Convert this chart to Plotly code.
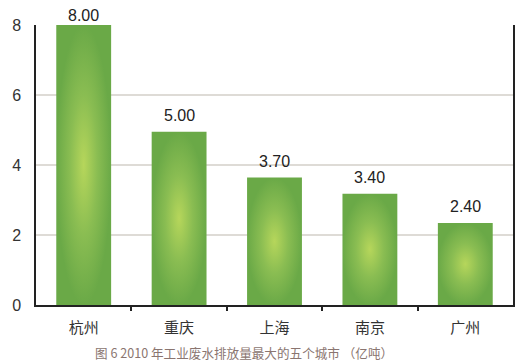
import plotly.graph_objects as go

cities = ["杭州", "重庆", "上海", "南京", "广州"]
values = [8.0, 4.95, 3.64, 3.18, 2.34]
value_labels = ["8.00", "5.00", "3.70", "3.40", "2.40"]
y_ticks = [0, 2, 4, 6, 8]
caption = "图 6 2010 年工业废水排放量最大的五个城市 （亿吨）"

bar_width = 0.575
y_max = 8
fig = go.Figure()
for i, (c, v) in enumerate(zip(cities, values)):
    x0, x1 = i - bar_width / 2, i + bar_width / 2
    fig.add_trace(go.Scatter(
        x=[x0, x1, x1, x0, x0], y=[0, 0, v, v, 0],
        mode="lines", line=dict(width=0), fill="toself",
        fillgradient=dict(type="radial",
                          colorscale=[[0, "#b6d65b"], [0.5, "#8abd52"], [1, "#6aa947"]]),
        hoverinfo="skip", showlegend=False, name=c,
    ))
    fig.add_annotation(x=i, y=v, text=value_labels[i], showarrow=False,
                       yanchor="bottom", yshift=(6 if v < y_max else -1.5),
                       font=dict(family="Liberation Sans", size=16, color="#222"))

fig.add_annotation(xref="paper", yref="paper", x=0.436, y=-0.168, text=caption,
                   showarrow=False, xanchor="center", yanchor="middle",
                   font=dict(family="Noto Sans CJK SC", size=12.6, color="#8a7570"))

fig.update_layout(
    width=520, height=364,
    margin=dict(l=36, r=5, t=25, b=59),
    plot_bgcolor="white", paper_bgcolor="white",
    xaxis=dict(range=[-0.5, 4.5], tickmode="array", tickvals=list(range(len(cities))),
               ticktext=cities, ticks="", showgrid=False, zeroline=False,
               showline=True, linecolor="#222", linewidth=2,
               tickfont=dict(family="Noto Sans CJK SC", size=15, color="#333"),
               ticklabelstandoff=8,
               minor=dict(tickmode="array", tickvals=[0.5, 1.5, 2.5, 3.5],
                          ticks="outside", ticklen=4, tickwidth=1.5, tickcolor="#222",
                          showgrid=False)),
    yaxis=dict(range=[0, y_max], tickmode="array", tickvals=y_ticks, ticks="",
               showgrid=True, gridcolor="#dedbd6", gridwidth=1.5, zeroline=False,
               showline=True, linecolor="#222", linewidth=1.5, mirror=True,
               tickfont=dict(family="Liberation Sans", size=16, color="#333"),
               ticklabelstandoff=10),
)
fig.write_html("out.html", config={"displayModeBar": False},
               post_script="document.body.style.margin='0';")
